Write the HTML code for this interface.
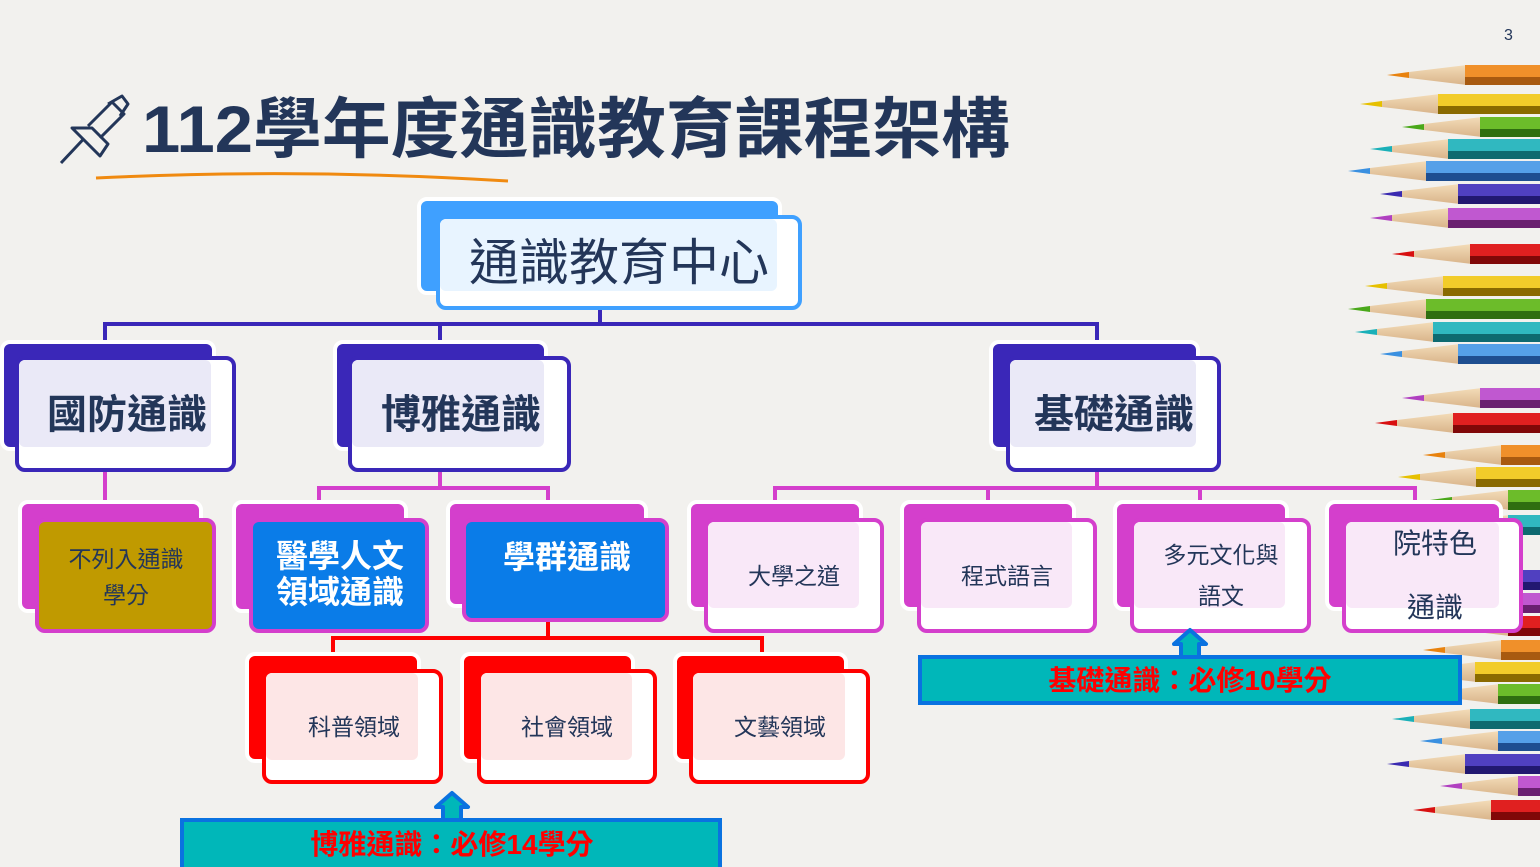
<!DOCTYPE html>
<html><head><meta charset="utf-8"><style>
html,body{margin:0;padding:0;background:#f2f1ee;}
svg{display:block;}
text{font-family:"Liberation Sans","Noto Sans CJK TC",sans-serif;}
</style></head><body>
<svg width="1540" height="867" viewBox="0 0 1540 867" xmlns="http://www.w3.org/2000/svg">
<defs>
<linearGradient id="wood" x1="0" y1="0" x2="0" y2="1"><stop offset="0" stop-color="#f3dcb8"/><stop offset="1" stop-color="#d9b48a"/></linearGradient>
</defs>
<rect width="1540" height="867" fill="#f2f1ee"/>
<text x="1504" y="40" font-size="16" fill="#233659">3</text>

<!-- pencils -->
<g id="pencils">
<!-- each: tip x, y center, color, dark -->
<g transform="translate(1387,75)"><polygon points="0,0 22,-3 22,3" fill="#e8820e"/><polygon points="22,-3 80,-10 80,10 22,3" fill="url(#wood)"/><rect x="78" y="-10" width="200" height="20" fill="#f0902a"/><rect x="78" y="2" width="200" height="8" fill="#a85a10"/></g>
<g transform="translate(1360,104)"><polygon points="0,0 22,-3 22,3" fill="#e6c000"/><polygon points="22,-3 80,-10 80,10 22,3" fill="url(#wood)"/><rect x="78" y="-10" width="200" height="20" fill="#f2cc2a"/><rect x="78" y="2" width="200" height="8" fill="#8a6a00"/></g>
<g transform="translate(1402,127)"><polygon points="0,0 22,-3 22,3" fill="#4aa81a"/><polygon points="22,-3 80,-10 80,10 22,3" fill="url(#wood)"/><rect x="78" y="-10" width="200" height="20" fill="#6cbc2a"/><rect x="78" y="2" width="200" height="8" fill="#2f6e10"/></g>
<g transform="translate(1370,149)"><polygon points="0,0 22,-3 22,3" fill="#1ab0b8"/><polygon points="22,-3 80,-10 80,10 22,3" fill="url(#wood)"/><rect x="78" y="-10" width="200" height="20" fill="#30b8c0"/><rect x="78" y="2" width="200" height="8" fill="#0e6a70"/></g>
<g transform="translate(1348,171)"><polygon points="0,0 22,-3 22,3" fill="#3a90e0"/><polygon points="22,-3 80,-10 80,10 22,3" fill="url(#wood)"/><rect x="78" y="-10" width="200" height="20" fill="#55a0e8"/><rect x="78" y="2" width="200" height="8" fill="#1e4e90"/></g>
<g transform="translate(1380,194)"><polygon points="0,0 22,-3 22,3" fill="#3a2ab0"/><polygon points="22,-3 80,-10 80,10 22,3" fill="url(#wood)"/><rect x="78" y="-10" width="200" height="20" fill="#5040c0"/><rect x="78" y="2" width="200" height="8" fill="#221870"/></g>
<g transform="translate(1370,218)"><polygon points="0,0 22,-3 22,3" fill="#b040c0"/><polygon points="22,-3 80,-10 80,10 22,3" fill="url(#wood)"/><rect x="78" y="-10" width="200" height="20" fill="#c058d0"/><rect x="78" y="2" width="200" height="8" fill="#6a2070"/></g>
<g transform="translate(1392,254)"><polygon points="0,0 22,-3 22,3" fill="#d81010"/><polygon points="22,-3 80,-10 80,10 22,3" fill="url(#wood)"/><rect x="78" y="-10" width="200" height="20" fill="#e02020"/><rect x="78" y="2" width="200" height="8" fill="#800808"/></g>
<g transform="translate(1365,286)"><polygon points="0,0 22,-3 22,3" fill="#e6c000"/><polygon points="22,-3 80,-10 80,10 22,3" fill="url(#wood)"/><rect x="78" y="-10" width="200" height="20" fill="#f2cc2a"/><rect x="78" y="2" width="200" height="8" fill="#8a6a00"/></g>
<g transform="translate(1348,309)"><polygon points="0,0 22,-3 22,3" fill="#4aa81a"/><polygon points="22,-3 80,-10 80,10 22,3" fill="url(#wood)"/><rect x="78" y="-10" width="200" height="20" fill="#6cbc2a"/><rect x="78" y="2" width="200" height="8" fill="#2f6e10"/></g>
<g transform="translate(1355,332)"><polygon points="0,0 22,-3 22,3" fill="#1ab0b8"/><polygon points="22,-3 80,-10 80,10 22,3" fill="url(#wood)"/><rect x="78" y="-10" width="200" height="20" fill="#30b8c0"/><rect x="78" y="2" width="200" height="8" fill="#0e6a70"/></g>
<g transform="translate(1380,354)"><polygon points="0,0 22,-3 22,3" fill="#3a90e0"/><polygon points="22,-3 80,-10 80,10 22,3" fill="url(#wood)"/><rect x="78" y="-10" width="200" height="20" fill="#55a0e8"/><rect x="78" y="2" width="200" height="8" fill="#1e4e90"/></g>
<g transform="translate(1402,398)"><polygon points="0,0 22,-3 22,3" fill="#b040c0"/><polygon points="22,-3 80,-10 80,10 22,3" fill="url(#wood)"/><rect x="78" y="-10" width="200" height="20" fill="#c058d0"/><rect x="78" y="2" width="200" height="8" fill="#6a2070"/></g>
<g transform="translate(1375,423)"><polygon points="0,0 22,-3 22,3" fill="#d81010"/><polygon points="22,-3 80,-10 80,10 22,3" fill="url(#wood)"/><rect x="78" y="-10" width="200" height="20" fill="#e02020"/><rect x="78" y="2" width="200" height="8" fill="#800808"/></g>
<g transform="translate(1423,455)"><polygon points="0,0 22,-3 22,3" fill="#e8820e"/><polygon points="22,-3 80,-10 80,10 22,3" fill="url(#wood)"/><rect x="78" y="-10" width="200" height="20" fill="#f0902a"/><rect x="78" y="2" width="200" height="8" fill="#a85a10"/></g>
<g transform="translate(1398,477)"><polygon points="0,0 22,-3 22,3" fill="#e6c000"/><polygon points="22,-3 80,-10 80,10 22,3" fill="url(#wood)"/><rect x="78" y="-10" width="200" height="20" fill="#f2cc2a"/><rect x="78" y="2" width="200" height="8" fill="#8a6a00"/></g>
<g transform="translate(1430,500)"><polygon points="0,0 22,-3 22,3" fill="#4aa81a"/><polygon points="22,-3 80,-10 80,10 22,3" fill="url(#wood)"/><rect x="78" y="-10" width="200" height="20" fill="#6cbc2a"/><rect x="78" y="2" width="200" height="8" fill="#2f6e10"/></g>
<g transform="translate(1430,525)"><polygon points="0,0 22,-3 22,3" fill="#1ab0b8"/><polygon points="22,-3 80,-10 80,10 22,3" fill="url(#wood)"/><rect x="78" y="-10" width="200" height="20" fill="#30b8c0"/><rect x="78" y="2" width="200" height="8" fill="#0e6a70"/></g>
<g transform="translate(1430,580)"><polygon points="0,0 22,-3 22,3" fill="#3a2ab0"/><polygon points="22,-3 80,-10 80,10 22,3" fill="url(#wood)"/><rect x="78" y="-10" width="200" height="20" fill="#5040c0"/><rect x="78" y="2" width="200" height="8" fill="#221870"/></g>
<g transform="translate(1430,603)"><polygon points="0,0 22,-3 22,3" fill="#b040c0"/><polygon points="22,-3 80,-10 80,10 22,3" fill="url(#wood)"/><rect x="78" y="-10" width="200" height="20" fill="#c058d0"/><rect x="78" y="2" width="200" height="8" fill="#6a2070"/></g>
<g transform="translate(1430,626)"><polygon points="0,0 22,-3 22,3" fill="#d81010"/><polygon points="22,-3 80,-10 80,10 22,3" fill="url(#wood)"/><rect x="78" y="-10" width="200" height="20" fill="#e02020"/><rect x="78" y="2" width="200" height="8" fill="#800808"/></g>
<g transform="translate(1423,650)"><polygon points="0,0 22,-3 22,3" fill="#e8820e"/><polygon points="22,-3 80,-10 80,10 22,3" fill="url(#wood)"/><rect x="78" y="-10" width="200" height="20" fill="#f0902a"/><rect x="78" y="2" width="200" height="8" fill="#a85a10"/></g>
<g transform="translate(1397,672)"><polygon points="0,0 22,-3 22,3" fill="#e6c000"/><polygon points="22,-3 80,-10 80,10 22,3" fill="url(#wood)"/><rect x="78" y="-10" width="200" height="20" fill="#f2cc2a"/><rect x="78" y="2" width="200" height="8" fill="#8a6a00"/></g>
<g transform="translate(1420,694)"><polygon points="0,0 22,-3 22,3" fill="#4aa81a"/><polygon points="22,-3 80,-10 80,10 22,3" fill="url(#wood)"/><rect x="78" y="-10" width="200" height="20" fill="#6cbc2a"/><rect x="78" y="2" width="200" height="8" fill="#2f6e10"/></g>
<g transform="translate(1392,719)"><polygon points="0,0 22,-3 22,3" fill="#1ab0b8"/><polygon points="22,-3 80,-10 80,10 22,3" fill="url(#wood)"/><rect x="78" y="-10" width="200" height="20" fill="#30b8c0"/><rect x="78" y="2" width="200" height="8" fill="#0e6a70"/></g>
<g transform="translate(1420,741)"><polygon points="0,0 22,-3 22,3" fill="#3a90e0"/><polygon points="22,-3 80,-10 80,10 22,3" fill="url(#wood)"/><rect x="78" y="-10" width="200" height="20" fill="#55a0e8"/><rect x="78" y="2" width="200" height="8" fill="#1e4e90"/></g>
<g transform="translate(1387,764)"><polygon points="0,0 22,-3 22,3" fill="#3a2ab0"/><polygon points="22,-3 80,-10 80,10 22,3" fill="url(#wood)"/><rect x="78" y="-10" width="200" height="20" fill="#5040c0"/><rect x="78" y="2" width="200" height="8" fill="#221870"/></g>
<g transform="translate(1440,786)"><polygon points="0,0 22,-3 22,3" fill="#b040c0"/><polygon points="22,-3 80,-10 80,10 22,3" fill="url(#wood)"/><rect x="78" y="-10" width="200" height="20" fill="#c058d0"/><rect x="78" y="2" width="200" height="8" fill="#6a2070"/></g>
<g transform="translate(1413,810)"><polygon points="0,0 22,-3 22,3" fill="#d81010"/><polygon points="22,-3 80,-10 80,10 22,3" fill="url(#wood)"/><rect x="78" y="-10" width="200" height="20" fill="#e02020"/><rect x="78" y="2" width="200" height="8" fill="#800808"/></g>
</g>

<!-- title -->
<g fill="none" stroke="#233659" stroke-width="3" stroke-linejoin="round">
<path d="M61,163 L92,130"/>
<path d="M72,128 L100,156 L108,144 L92,128 Z" fill="#f2f1ee"/>
<path d="M88,126 L112,102 L124,114 L100,138"/>
<path d="M108,104 L122,96 L128,104 L120,116"/>
</g>
<text x="142" y="152" font-size="66" font-weight="bold" fill="#233659" textLength="868" lengthAdjust="spacingAndGlyphs">112學年度通識教育課程架構</text>
<path d="M96,178 Q300,168 508,181" stroke="#f08a10" stroke-width="3" fill="none"/>

<!-- connectors -->
<g stroke="#3a27b8" stroke-width="4" fill="none">
<path d="M600,305 V324 M105,324 H1097 M105,322 V346 M440,322 V346 M1097,322 V346"/>
</g>
<g stroke="#d43fcc" stroke-width="4" fill="none">
<path d="M105,470 V506 M440,470 V488 M319,488 H548 M319,486 V506 M548,486 V506"/>
<path d="M1097,470 V488 M775,488 H1415 M775,486 V506 M988,486 V506 M1200,486 V506 M1415,486 V506"/>
</g>
<g stroke="#ff0000" stroke-width="4" fill="none">
<path d="M548,620 V638 M333,638 H762 M333,636 V658 M762,636 V658"/>
</g>

<!-- node macro: back, front, tint -->
<!-- top -->
<rect x="419" y="199" width="361" height="94" rx="8" fill="#3fa0ff" stroke="#fff" stroke-width="4"/>
<rect x="438" y="217" width="362" height="91" rx="8" fill="#fff" stroke="#3fa0ff" stroke-width="4"/>
<rect x="440" y="219" width="337" height="72" rx="6" fill="#e8f4ff"/>
<text x="619" y="280" font-size="50" fill="#233659" text-anchor="middle" textLength="300" lengthAdjust="spacingAndGlyphs">通識教育中心</text>

<!-- level 2 -->
<g>
<rect x="2" y="342" width="212" height="107" rx="8" fill="#3a27b8" stroke="#fff" stroke-width="4"/>
<rect x="17" y="358" width="217" height="112" rx="8" fill="#fff" stroke="#3a27b8" stroke-width="4"/>
<rect x="19" y="360" width="192" height="87" rx="6" fill="#eae9f7"/>
<text x="127" y="428" font-size="40" font-weight="bold" fill="#233659" text-anchor="middle">國防通識</text>

<rect x="335" y="342" width="211" height="107" rx="8" fill="#3a27b8" stroke="#fff" stroke-width="4"/>
<rect x="350" y="358" width="219" height="112" rx="8" fill="#fff" stroke="#3a27b8" stroke-width="4"/>
<rect x="352" y="360" width="192" height="87" rx="6" fill="#eae9f7"/>
<text x="461" y="428" font-size="40" font-weight="bold" fill="#233659" text-anchor="middle">博雅通識</text>

<rect x="991" y="342" width="207" height="107" rx="8" fill="#3a27b8" stroke="#fff" stroke-width="4"/>
<rect x="1008" y="358" width="211" height="112" rx="8" fill="#fff" stroke="#3a27b8" stroke-width="4"/>
<rect x="1010" y="360" width="186" height="87" rx="6" fill="#eae9f7"/>
<text x="1114" y="428" font-size="40" font-weight="bold" fill="#233659" text-anchor="middle">基礎通識</text>
</g>

<!-- level 3 left -->
<rect x="20" y="502" width="181" height="109" rx="8" fill="#d43fcc" stroke="#fff" stroke-width="4"/>
<rect x="37" y="520" width="177" height="111" rx="8" fill="#c09a00" stroke="#d43fcc" stroke-width="4"/>
<text x="126" y="567" font-size="23" fill="#233659" text-anchor="middle">不列入通識</text>
<text x="126" y="603" font-size="23" fill="#233659" text-anchor="middle">學分</text>

<rect x="234" y="502" width="172" height="109" rx="8" fill="#d43fcc" stroke="#fff" stroke-width="4"/>
<rect x="251" y="520" width="176" height="111" rx="8" fill="#0a7ce8" stroke="#d43fcc" stroke-width="4"/>
<text x="340" y="567" font-size="32" font-weight="bold" fill="#fff" text-anchor="middle">醫學人文</text>
<text x="340" y="603" font-size="32" font-weight="bold" fill="#fff" text-anchor="middle">領域通識</text>

<rect x="448" y="502" width="198" height="104" rx="8" fill="#d43fcc" stroke="#fff" stroke-width="4"/>
<rect x="464" y="520" width="203" height="100" rx="8" fill="#0a7ce8" stroke="#d43fcc" stroke-width="4"/>
<text x="567" y="568" font-size="32" font-weight="bold" fill="#fff" text-anchor="middle">學群通識</text>

<!-- level 3 right -->
<g>
<rect x="689" y="502" width="172" height="107" rx="8" fill="#d43fcc" stroke="#fff" stroke-width="4"/>
<rect x="706" y="520" width="176" height="111" rx="8" fill="#fff" stroke="#d43fcc" stroke-width="4"/>
<rect x="708" y="522" width="151" height="86" rx="6" fill="#f9e8f8"/>
<text x="794" y="584" font-size="23" fill="#233659" text-anchor="middle">大學之道</text>

<rect x="902" y="502" width="172" height="107" rx="8" fill="#d43fcc" stroke="#fff" stroke-width="4"/>
<rect x="919" y="520" width="176" height="111" rx="8" fill="#fff" stroke="#d43fcc" stroke-width="4"/>
<rect x="921" y="522" width="151" height="86" rx="6" fill="#f9e8f8"/>
<text x="1007" y="584" font-size="23" fill="#233659" text-anchor="middle">程式語言</text>

<rect x="1115" y="502" width="172" height="107" rx="8" fill="#d43fcc" stroke="#fff" stroke-width="4"/>
<rect x="1132" y="520" width="177" height="111" rx="8" fill="#fff" stroke="#d43fcc" stroke-width="4"/>
<rect x="1134" y="522" width="151" height="86" rx="6" fill="#f9e8f8"/>
<text x="1221" y="563" font-size="23" fill="#233659" text-anchor="middle">多元文化與</text>
<text x="1221" y="604" font-size="23" fill="#233659" text-anchor="middle">語文</text>

<rect x="1327" y="502" width="174" height="107" rx="8" fill="#d43fcc" stroke="#fff" stroke-width="4"/>
<rect x="1344" y="520" width="177" height="111" rx="8" fill="#fff" stroke="#d43fcc" stroke-width="4"/>
<rect x="1346" y="522" width="153" height="86" rx="6" fill="#f9e8f8"/>
<text x="1435" y="553" font-size="28" fill="#233659" text-anchor="middle">院特色</text>
<text x="1435" y="617" font-size="28" fill="#233659" text-anchor="middle">通識</text>
</g>

<!-- red level -->
<g>
<rect x="247" y="654" width="172" height="107" rx="8" fill="#ff0000" stroke="#fff" stroke-width="4"/>
<rect x="264" y="671" width="177" height="111" rx="8" fill="#fff" stroke="#ff0000" stroke-width="4"/>
<rect x="266" y="673" width="152" height="87" rx="6" fill="#fde6e6"/>
<text x="354" y="735" font-size="23" fill="#233659" text-anchor="middle">科普領域</text>

<rect x="462" y="654" width="171" height="107" rx="8" fill="#ff0000" stroke="#fff" stroke-width="4"/>
<rect x="479" y="671" width="176" height="111" rx="8" fill="#fff" stroke="#ff0000" stroke-width="4"/>
<rect x="481" y="673" width="151" height="87" rx="6" fill="#fde6e6"/>
<text x="567" y="735" font-size="23" fill="#233659" text-anchor="middle">社會領域</text>

<rect x="675" y="654" width="171" height="107" rx="8" fill="#ff0000" stroke="#fff" stroke-width="4"/>
<rect x="691" y="671" width="177" height="111" rx="8" fill="#fff" stroke="#ff0000" stroke-width="4"/>
<rect x="693" y="673" width="152" height="87" rx="6" fill="#fde6e6"/>
<text x="780" y="735" font-size="23" fill="#233659" text-anchor="middle">文藝領域</text>
</g>

<!-- requirement boxes -->
<rect x="182" y="820" width="538" height="50" fill="#00b7b9" stroke="#0a72e0" stroke-width="4"/>
<polygon points="452,793 468,807 461,807 461,820 443,820 443,807 436,807" fill="#00b7b9" stroke="#0a72e0" stroke-width="4" stroke-linejoin="round"/>
<text x="452" y="854" font-size="28" font-weight="bold" fill="#ff0000" text-anchor="middle">博雅通識：必修14學分</text>

<rect x="920" y="657" width="540" height="46" fill="#00b7b9" stroke="#0a72e0" stroke-width="4"/>
<polygon points="1190,630 1206,644 1199,644 1199,657 1181,657 1181,644 1174,644" fill="#00b7b9" stroke="#0a72e0" stroke-width="4" stroke-linejoin="round"/>
<text x="1190" y="690" font-size="28" font-weight="bold" fill="#ff0000" text-anchor="middle">基礎通識：必修10學分</text>
</svg>
</body></html>
